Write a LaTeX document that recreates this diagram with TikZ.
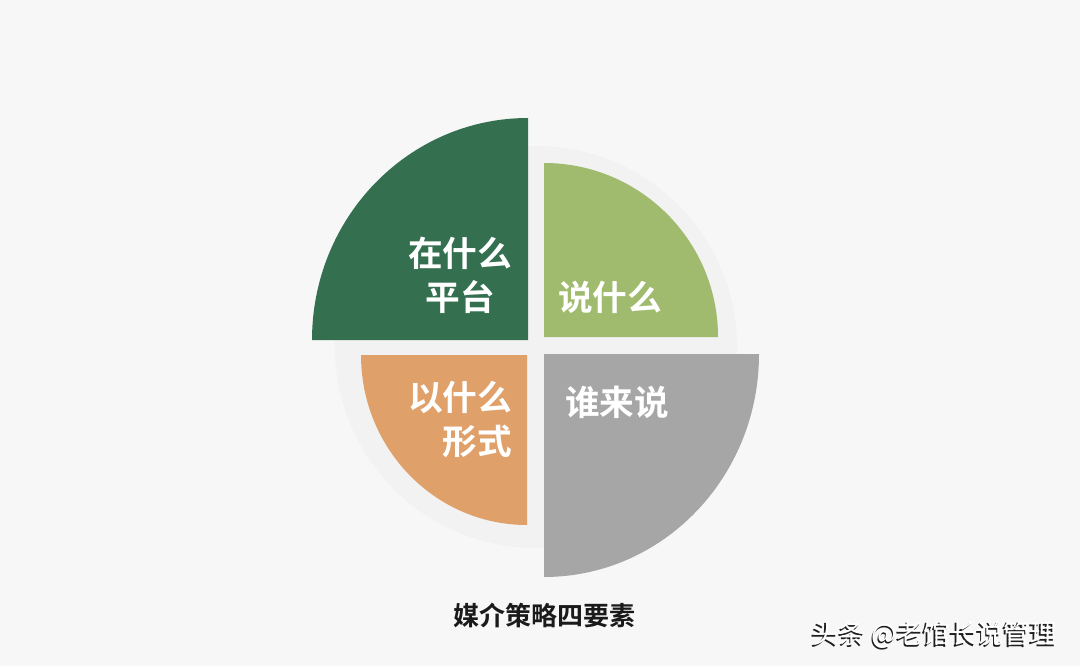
\documentclass[tikz,border=0pt]{standalone}
\usepackage{fontspec}
\usepackage{tikz}
\newfontfamily\cjk{Noto Sans CJK SC}[BoldFont={Noto Sans CJK SC Bold}]
\definecolor{bgGray}{RGB}{247,247,247}
\definecolor{ringGray}{RGB}{242,242,242}
\definecolor{darkGreen}{RGB}{52,112,80}
\definecolor{lightGreen}{RGB}{160,187,110}
\definecolor{softOrange}{RGB}{224,160,106}
\definecolor{midGray}{RGB}{166,166,166}
\tikzset{
  label text/.style={text=white,inner sep=0.75pt,font=\cjk\bfseries\fontsize{26}{33}\selectfont},
  mark text/.style={inner sep=0.75pt,font=\cjk\fontsize{20}{24}\selectfont},
}

\begin{document}
\begin{tikzpicture}[x=0.75pt,y=0.75pt,yscale=-1,xscale=1]
%set diagram left start at 0, and has height of 666
\useasboundingbox (0,0) rectangle (1080,666);

%Shape: Background
\fill [bgGray] (0,0) rectangle (1080,666);
%Shape: Circle behind the quarters
\fill [ringGray] (536,347) circle [radius=201];

%Shape: Quarter top left
\fill [darkGreen] (528,340) -- (312,340) arc [start angle=180,end angle=270,x radius=216,y radius=222] -- cycle;
%Shape: Quarter top right
\fill [lightGreen] (544,337) -- (544,163) arc [start angle=270,end angle=360,x radius=174,y radius=174] -- cycle;
%Shape: Quarter bottom right
\fill [midGray] (544,354) -- (759,354) arc [start angle=0,end angle=90,x radius=215,y radius=223] -- cycle;
%Shape: Quarter bottom left
\fill [softOrange] (527,355) -- (527,525) arc [start angle=90,end angle=180,x radius=166,y radius=170] -- cycle;

% Text Node
\node [label text,align=center] (platform) at (460,275) {在什么\\平台};
% Text Node
\node [label text] (content) at (610,297) {说什么};
% Text Node
\node [label text,align=right] (format) at (460,420) {以什么\\形式};
% Text Node
\node [label text] (speaker) at (617,402) {谁来说};
% Text Node
\node [inner sep=0.75pt,text={rgb,255:red,26;green,26;blue,26},font=\cjk\bfseries\fontsize{19.5}{24}\selectfont] (caption) at (544,615) {媒介策略四要素};
% Text Node
\node [mark text,text={rgb,255:red,30;green,30;blue,30}] (markshadow) at (933,636.5) {头条 @老馆长说管理};
\node [mark text,text=white] (mark) at (934.5,635) {头条 @老馆长说管理};

\end{tikzpicture}
\end{document}
